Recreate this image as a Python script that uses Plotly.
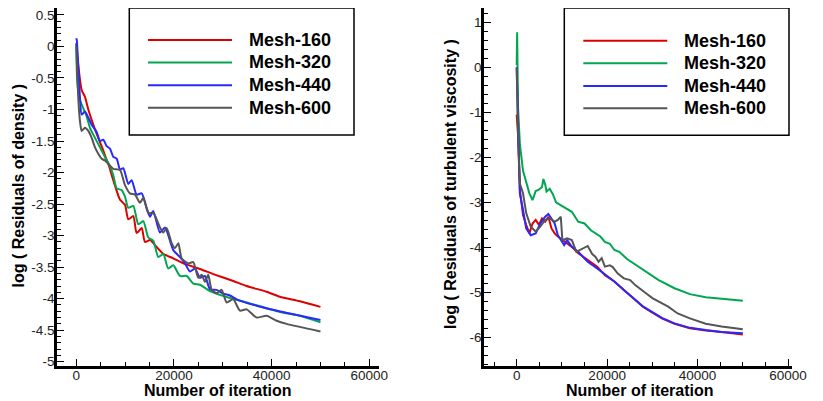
import plotly.graph_objects as go

# ---------------- data: left panel (density residuals) ----------------
d160_x = [0, 410, 1100, 1780, 2460, 3480, 4500, 5530, 6220, 6550, 7570, 8950, 9970, 10650, 11670, 12360, 13390, 14060, 15090, 16460, 17810, 19860, 21900, 25320, 28040, 32140, 34880, 38970, 41700, 45790, 50000]
d160_y = [0.05, -0.3, -0.69, -0.8, -1.0, -1.24, -1.45, -1.65, -1.8, -1.86, -2.12, -2.43, -2.51, -2.74, -2.69, -2.96, -2.88, -3.10, -3.07, -3.18, -3.29, -3.36, -3.44, -3.53, -3.61, -3.72, -3.80, -3.89, -3.97, -4.04, -4.13]

d320_x = [0, 200, 760, 1430, 2130, 2800, 3830, 4850, 5900, 6900, 7570, 8270, 9290, 9970, 10650, 11670, 12700, 13720, 14740, 15760, 16790, 17810, 18830, 19860, 21230, 22600, 23950, 25320, 27370, 31460, 34880, 41700, 45790, 50000]
d320_y = [0.05, -0.56, -0.85, -0.98, -1.11, -1.29, -1.45, -1.60, -1.76, -1.90, -2.04, -2.25, -2.28, -2.38, -2.56, -2.53, -2.82, -2.77, -3.03, -3.08, -3.34, -3.29, -3.52, -3.47, -3.64, -3.64, -3.76, -3.78, -3.88, -3.99, -4.06, -4.21, -4.27, -4.375]

d440_x = [0, 100, 760, 1100, 1780, 2460, 3150, 4180, 4850, 5530, 6220, 6900, 7570, 8270, 8950, 9620, 10650, 11340, 12360, 13390, 14410, 15090, 15760, 17130, 18160, 19860, 21230, 22250, 23270, 24300, 25320, 26340, 27370, 28740, 30090, 31460, 32830, 38280, 45120, 50000]
d440_y = [0.13, 0.10, -0.82, -1.08, -1.03, -1.13, -1.24, -1.36, -1.50, -1.48, -1.58, -1.62, -1.75, -1.78, -1.95, -1.93, -2.18, -2.12, -2.35, -2.33, -2.56, -2.70, -2.61, -2.95, -2.87, -3.23, -3.34, -3.44, -3.57, -3.52, -3.67, -3.64, -3.85, -3.86, -3.92, -3.95, -4.01, -4.14, -4.26, -4.34]

d600_x = [0, 410, 760, 1100, 1780, 2460, 3150, 3830, 4500, 5200, 5870, 6900, 7570, 8950, 9970, 10990, 12020, 13040, 13720, 14740, 15760, 17130, 17810, 18500, 19530, 20200, 20900, 21570, 22930, 23950, 24970, 25670, 26340, 27020, 27720, 28740, 29760, 30790, 32140, 33510, 34880, 36930, 38970, 41020, 43070, 50000]
d600_y = [0.0, -0.82, -1.19, -1.34, -1.29, -1.34, -1.45, -1.60, -1.70, -1.78, -1.81, -1.89, -1.94, -1.96, -2.20, -2.33, -2.35, -2.48, -2.40, -2.64, -2.64, -2.87, -2.95, -2.88, -3.12, -3.20, -3.12, -3.36, -3.44, -3.42, -3.67, -3.62, -3.73, -3.62, -3.86, -3.91, -3.86, -4.06, -4.01, -4.19, -4.17, -4.30, -4.27, -4.35, -4.40, -4.52]

# ---------------- data: right panel (turbulent viscosity residuals) ----------------
v160_x = [0, 300, 700, 1050, 1400, 2100, 2800, 3500, 4200, 4900, 5600, 6300, 7000, 7700, 8400, 9100, 10100, 11150, 12200, 13600, 15700, 17800, 19500, 21600, 23700, 25800, 27900, 30000, 32100, 34900, 38300, 41800, 45300, 50000]
v160_y = [-1.05, -1.5, -2.73, -3.02, -3.28, -3.50, -3.69, -3.47, -3.39, -3.50, -3.36, -3.43, -3.32, -3.58, -3.69, -3.76, -3.84, -3.91, -3.99, -4.13, -4.28, -4.43, -4.62, -4.76, -4.95, -5.13, -5.32, -5.45, -5.58, -5.70, -5.80, -5.85, -5.88, -5.94]

v320_x = [0, 100, 300, 700, 1050, 1400, 2100, 2800, 3500, 4200, 4900, 5600, 5900, 6300, 6600, 7300, 8000, 8700, 9700, 10800, 12200, 13600, 15000, 16400, 17500, 18500, 19500, 20600, 21600, 22700, 24400, 27900, 31400, 34900, 38300, 41800, 45300, 50000]
v320_y = [0.05, 0.78, -0.9, -1.7, -2.0, -2.3, -2.55, -2.8, -2.95, -2.75, -2.72, -2.66, -2.48, -2.6, -2.76, -2.7, -2.82, -3.0, -3.06, -3.13, -3.21, -3.43, -3.47, -3.62, -3.69, -3.76, -3.88, -3.92, -4.06, -4.10, -4.26, -4.50, -4.73, -4.91, -5.04, -5.11, -5.15, -5.19]

v440_x = [0, 300, 700, 1400, 2100, 3100, 4200, 5200, 6300, 7000, 7700, 8400, 9100, 9750, 10500, 11150, 12200, 13600, 15700, 17800, 19500, 21600, 23700, 25800, 27900, 30000, 32100, 34900, 38300, 41800, 45300, 50000]
v440_y = [0.0, -1.5, -2.8, -3.17, -3.58, -3.73, -3.69, -3.47, -3.32, -3.26, -3.36, -3.47, -3.73, -3.84, -3.95, -3.84, -3.99, -4.10, -4.32, -4.47, -4.60, -4.76, -4.95, -5.13, -5.31, -5.44, -5.57, -5.69, -5.79, -5.84, -5.88, -5.91]

v600_x = [0, 300, 700, 1400, 2100, 3100, 4200, 5200, 6300, 7300, 8400, 9100, 9750, 10100, 11150, 12200, 13200, 14600, 15700, 16700, 17400, 18100, 18800, 19500, 20600, 21250, 22300, 23700, 25100, 26200, 27200, 28600, 30000, 31400, 33500, 35600, 38300, 41800, 45300, 50000]
v600_y = [0.0, -1.5, -2.58, -2.8, -3.24, -3.54, -3.65, -3.54, -3.39, -3.36, -3.43, -3.39, -3.32, -3.84, -3.80, -3.84, -4.10, -4.03, -3.97, -4.15, -4.21, -4.32, -4.24, -4.43, -4.40, -4.44, -4.58, -4.69, -4.73, -4.84, -4.91, -5.02, -5.13, -5.21, -5.32, -5.47, -5.58, -5.70, -5.76, -5.82]

series_names = ["Mesh-160", "Mesh-320", "Mesh-440", "Mesh-600"]
series_colors = ["#dd0000", "#00a650", "#2828ff", "#555555"]

# tick labels
x_tickvals = [0, 20000, 40000, 60000]
x_ticktext = ["0", "20000", "40000", "60000"]
yl_tickvals = [0.5, 0, -0.5, -1, -1.5, -2, -2.5, -3, -3.5, -4, -4.5, -5]
yl_ticktext = ["0.5", "0", "-0.5", "-1", "-1.5", "-2", "-2.5", "-3", "-3.5", "-4", "-4.5", "-5"]
yr_tickvals = [1, 0, -1, -2, -3, -4, -5, -6]
yr_ticktext = ["1", "0", "-1", "-2", "-3", "-4", "-5", "-6"]

left_title = "log ( Residuals of density )"
right_title = "log ( Residuals of turbulent viscosity )"
x_title = "Number of iteration"

# the page body keeps an 8px margin, so the figure is made 8px smaller and
# every reference pixel position is shifted by that offset
OFF = 8
W, H = 823 - OFF, 401 - OFF
FONT = "Liberation Sans, Arial, sans-serif"

fig = go.Figure()
left_data = [(d160_x, d160_y), (d320_x, d320_y), (d440_x, d440_y), (d600_x, d600_y)]
right_data = [(v160_x, v160_y), (v320_x, v320_y), (v440_x, v440_y), (v600_x, v600_y)]
for (xs, ys), name, col in zip(left_data, series_names, series_colors):
    fig.add_trace(go.Scatter(x=xs, y=ys, mode="lines", name=name,
                             line=dict(color=col, width=2, shape="spline", smoothing=0.6),
                             xaxis="x", yaxis="y", showlegend=False))
for (xs, ys), name, col in zip(right_data, series_names, series_colors):
    fig.add_trace(go.Scatter(x=xs, y=ys, mode="lines", name=name, line=dict(color=col, width=2),
                             xaxis="x2", yaxis="y2", showlegend=False))

def px2x(p):
    return (p - OFF) / W

def px2y(p):
    return 1 - (p - OFF) / H

tickfont = dict(family=FONT, size=13.5, color="#222")
common_x = dict(showline=True, linecolor="black", linewidth=2.5, ticks="inside", ticklen=7, tickwidth=1.2,
                tickcolor="black", showgrid=False, zeroline=False, tickfont=tickfont, automargin=False,
                tickvals=x_tickvals, ticktext=x_ticktext, mirror=False, ticklabelstandoff=-4,
                ticklabeloverflow="allow",
                minor=dict(dtick=5000, tick0=0, ticks="inside", ticklen=4, tickwidth=1, tickcolor="black"))
common_y = dict(showline=True, linecolor="black", linewidth=2.5, ticks="inside", ticklen=7, tickwidth=1.2,
                tickcolor="black", showgrid=False, zeroline=False, tickfont=tickfont, mirror=False,
                automargin=False, ticklabelstandoff=-3, ticklabeloverflow="allow")

fig.update_layout(
    width=W, height=H, margin=dict(l=0, r=0, t=0, b=0, autoexpand=False),
    paper_bgcolor="white", plot_bgcolor="white", showlegend=False,
    xaxis=dict(common_x, domain=[px2x(57), px2x(379.3)], range=[-3950, 62050], anchor="y"),
    yaxis=dict(common_y, domain=[px2y(365.5), px2y(8)], range=[-5.06, 0.61], anchor="x",
               tickvals=yl_tickvals, ticktext=yl_ticktext,
               minor=dict(dtick=0.1, tick0=0, ticks="inside", ticklen=4, tickwidth=1, tickcolor="black")),
    xaxis2=dict(common_x, domain=[px2x(484), px2x(792)], range=[-7230, 60880], anchor="y2"),
    yaxis2=dict(common_y, domain=[px2y(365.5), px2y(8)], range=[-6.627, 1.32], anchor="x2",
                tickvals=yr_tickvals, ticktext=yr_ticktext,
                minor=dict(dtick=0.2, tick0=0, ticks="inside", ticklen=4, tickwidth=1, tickcolor="black")),
)

annotations = []
shapes = []
title_font = dict(family=FONT, size=16, color="black")
annotations.append(dict(text="<b>%s</b>" % x_title, x=px2x(218), y=px2y(390), xref="paper", yref="paper",
                        showarrow=False, font=title_font, xanchor="center", yanchor="middle"))
annotations.append(dict(text="<b>%s</b>" % x_title, x=px2x(640), y=px2y(390), xref="paper", yref="paper",
                        showarrow=False, font=title_font, xanchor="center", yanchor="middle"))
annotations.append(dict(text="<b>%s</b>" % left_title, x=px2x(8), y=px2y(186), xref="paper", yref="paper",
                        showarrow=False, font=title_font, textangle=-90, xanchor="left", yanchor="middle"))
annotations.append(dict(text="<b>%s</b>" % right_title, x=px2x(450), y=px2y(184), xref="paper", yref="paper",
                        showarrow=False, font=title_font, textangle=-90, xanchor="center", yanchor="middle"))

# legends (drawn as boxes with line samples and labels)
legend_specs = [
    dict(box=(129.3, 8, 354, 135), line=(148, 232), text_x=246.7, rows=[40, 62.5, 85.3, 107.7]),
    dict(box=(564.3, 8, 789, 135.3), line=(583.3, 667.3), text_x=681.7, rows=[40.7, 63.3, 86, 108.3]),
]
for spec in legend_specs:
    x0, y0, x1, y1 = spec["box"]
    shapes.append(dict(type="rect", xref="paper", yref="paper", x0=px2x(x0), y0=px2y(y1), x1=px2x(x1), y1=px2y(y0),
                       line=dict(color="black", width=1.5), fillcolor="white", layer="above"))
    for name, col, ry in zip(series_names, series_colors, spec["rows"]):
        shapes.append(dict(type="line", xref="paper", yref="paper", x0=px2x(spec["line"][0]), x1=px2x(spec["line"][1]),
                           y0=px2y(ry), y1=px2y(ry), line=dict(color=col, width=2), layer="above"))
        annotations.append(dict(text="<b>%s</b>" % name, x=px2x(spec["text_x"]), y=px2y(ry), xref="paper", yref="paper",
                                showarrow=False, xanchor="left", yanchor="middle",
                                font=dict(family=FONT, size=18, color="black")))

fig.update_layout(annotations=annotations, shapes=shapes)
fig.write_html("out.html")
